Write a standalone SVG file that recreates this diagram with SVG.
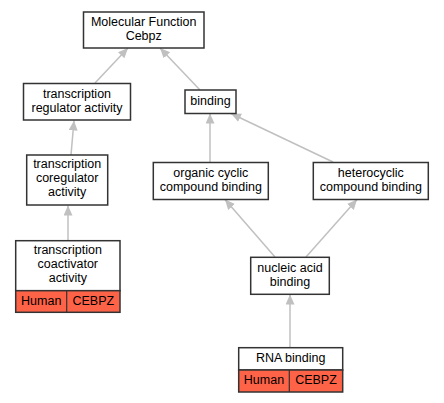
<svg xmlns="http://www.w3.org/2000/svg" width="444" height="403" viewBox="0 0 444 403">
<style>
.n{fill:#fff;stroke:#333;stroke-width:1.5}
.o{fill:#ff6347;stroke:#333;stroke-width:1.5}
.d{stroke:#333;stroke-width:1.2}
text{font-family:"Liberation Sans",Arial,sans-serif;font-size:12.5px;fill:#000;text-anchor:middle}
.e{stroke:#c0c0c0;stroke-width:1.5;fill:none;marker-end:url(#ah)}
</style>
<defs>
<marker id="ah" markerUnits="userSpaceOnUse" markerWidth="11" markerHeight="10" refX="10" refY="4.5" orient="auto">
<path d="M0,0 L10,4.5 L0,9 z" fill="#c0c0c0"/>
</marker>
</defs>
<rect width="444" height="403" fill="#fff"/>
<g id="edges">
<line class="e" x1="95" y1="83" x2="128" y2="48"/>
<line class="e" x1="200" y1="90" x2="160" y2="48"/>
<line class="e" x1="71" y1="155" x2="74" y2="120.5"/>
<line class="e" x1="210" y1="162" x2="210" y2="113.5"/>
<line class="e" x1="333" y1="162" x2="231" y2="113.5"/>
<line class="e" x1="68" y1="240.5" x2="68" y2="205.5"/>
<line class="e" x1="275" y1="257" x2="225" y2="199.5"/>
<line class="e" x1="306" y1="257" x2="357" y2="199.5"/>
<line class="e" x1="290" y1="347.5" x2="290" y2="294.5"/>
</g>
<g id="mf">
<rect class="n" x="83.5" y="12" width="120.5" height="36"/>
<text x="143.7" y="26">Molecular Function</text>
<text x="143.7" y="40">Cebpz</text>
</g>
<g id="tra">
<rect class="n" x="23.5" y="83.5" width="107" height="36.5"/>
<text x="77" y="97.5">transcription</text>
<text x="77" y="111.5">regulator activity</text>
</g>
<g id="binding">
<rect class="n" x="185" y="90" width="51" height="23.5"/>
<text x="210.5" y="105">binding</text>
</g>
<g id="tcr">
<rect class="n" x="26.7" y="155" width="81" height="50"/>
<text x="67.2" y="168">transcription</text>
<text x="67.2" y="182">coregulator</text>
<text x="67.2" y="196">activity</text>
</g>
<g id="occb">
<rect class="n" x="153.3" y="162.5" width="115" height="37"/>
<text x="210.8" y="177">organic cyclic</text>
<text x="210.8" y="191">compound binding</text>
</g>
<g id="hcb">
<rect class="n" x="313.3" y="162.5" width="115" height="37"/>
<text x="370.8" y="177">heterocyclic</text>
<text x="370.8" y="191">compound binding</text>
</g>
<g id="tca">
<rect class="n" x="15.7" y="240.7" width="104.3" height="50"/>
<rect class="o" x="15.7" y="290.7" width="104.3" height="21.6"/>
<line class="d" x1="66.7" y1="290.7" x2="66.7" y2="312.3"/>
<text x="67.8" y="254">transcription</text>
<text x="67.8" y="268">coactivator</text>
<text x="67.8" y="282">activity</text>
<text x="41.2" y="305">Human</text>
<text x="93.3" y="305">CEBPZ</text>
</g>
<g id="nab">
<rect class="n" x="250.7" y="257.3" width="78.6" height="37"/>
<text x="290" y="272">nucleic acid</text>
<text x="290" y="286">binding</text>
</g>
<g id="rna">
<rect class="n" x="238.7" y="347.7" width="104" height="22.3"/>
<rect class="o" x="238.7" y="370" width="104" height="22"/>
<line class="d" x1="289.3" y1="370" x2="289.3" y2="392"/>
<text x="290.7" y="362">RNA binding</text>
<text x="264" y="384">Human</text>
<text x="316" y="384">CEBPZ</text>
</g>
</svg>
